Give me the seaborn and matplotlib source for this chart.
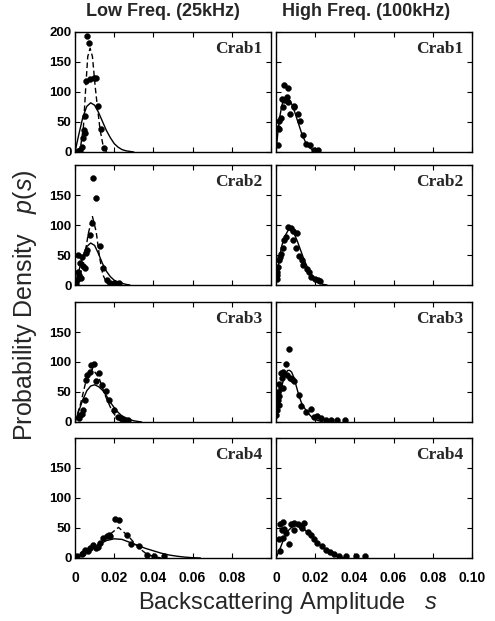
import matplotlib
matplotlib.use("Agg")
import matplotlib.pyplot as plt
import seaborn as sns
import pandas as pd

# ---------------- data ----------------
col_titles = ["Low Freq. (25kHz)", "High Freq. (100kHz)"]
crab_names = ["Crab1", "Crab2", "Crab3", "Crab4"]
x_ticks = [0, 0.02, 0.04, 0.06, 0.08, 0.10]
x_tick_labels_low = ["0", "0.02", "0.04", "0.06", "0.08", ""]
x_tick_labels_high = ["0", "0.02", "0.04", "0.06", "0.08", "0.10"]
y_ticks = [0, 50, 100, 150, 200]

# Low frequency, Crab1
low1_pts_x = [0.0014, 0.0026, 0.0034, 0.0041, 0.0048, 0.0049, 0.0051, 0.0055, 0.0060, 0.0072, 0.0077, 0.0098, 0.0105, 0.0115, 0.0133, 0.0146]
low1_pts_y = [1, 3, 9, 23, 37, 31, 60, 118, 193, 182, 122, 123, 124, 77, 38, 7]
low1_fit_x = [0, 0.002, 0.004, 0.006, 0.008, 0.010, 0.012, 0.014, 0.016, 0.018, 0.020, 0.022, 0.024, 0.026, 0.028, 0.030]
low1_fit_y = [0, 30, 58, 76, 82, 78, 66, 51, 36, 24, 14, 8, 4, 2, 1, 0]
low1_alt_x = [0.0010, 0.0026, 0.0043, 0.0055, 0.0065, 0.0077, 0.0089, 0.0103, 0.0116, 0.0128, 0.0146, 0.0163]
low1_alt_y = [0, 3, 42, 109, 159, 173, 159, 109, 70, 37, 6, 0]

# Low frequency, Crab2
low2_pts_x = [0.0003, 0.0009, 0.0017, 0.0022, 0.0029, 0.0017, 0.0034, 0.0026, 0.0043, 0.0051, 0.0056, 0.0063, 0.0077, 0.0086, 0.0094, 0.0106, 0.0125, 0.0142, 0.0163, 0.0180, 0.0197, 0.0222]
low2_pts_y = [2, 8, 22, 17, 11, 50, 47, 36, 31, 28, 53, 59, 83, 103, 178, 145, 65, 29, 8, 4, 3, 3]
low2_fit_x = [0, 0.002, 0.004, 0.006, 0.008, 0.010, 0.012, 0.014, 0.016, 0.018, 0.020, 0.022, 0.024, 0.026, 0.028]
low2_fit_y = [0, 24, 48, 64, 70, 66, 52, 36, 23, 14, 8, 5, 3, 1, 0]
low2_alt_x = [0.0009, 0.0026, 0.0043, 0.0068, 0.0089, 0.0108, 0.0125, 0.0142, 0.0163, 0.0180]
low2_alt_y = [2, 17, 36, 86, 114, 89, 47, 17, 3, 0]

# Low frequency, Crab3
low3_pts_x = [0.0018, 0.0028, 0.0034, 0.0041, 0.0051, 0.0055, 0.0063, 0.0075, 0.0081, 0.0097, 0.0109, 0.0123, 0.0140, 0.0157, 0.0174, 0.0200, 0.0217, 0.0234, 0.0251, 0.0268]
low3_pts_y = [7, 12, 14, 20, 37, 70, 78, 84, 95, 96, 68, 81, 62, 51, 37, 20, 9, 6, 4, 4]
low3_fit_x = [0, 0.002, 0.004, 0.006, 0.008, 0.010, 0.012, 0.014, 0.016, 0.018, 0.020, 0.022, 0.024, 0.026, 0.028, 0.030, 0.032, 0.034]
low3_fit_y = [0, 19, 37, 52, 60, 62, 59, 53, 44, 33, 24, 16, 10, 7, 4, 2, 1, 0]
low3_alt_x = [0, 0.0029, 0.0055, 0.0089, 0.0123, 0.0157, 0.0191, 0.0217, 0.0234, 0.0250]
low3_alt_y = [0, 31, 67, 89, 73, 42, 17, 6, 1, 0]

# Low frequency, Crab4
low4_pts_x = [0.0010, 0.0034, 0.0043, 0.0051, 0.0068, 0.0077, 0.0094, 0.0106, 0.0116, 0.0128, 0.0145, 0.0162, 0.0171, 0.0180, 0.0205, 0.0225, 0.0265, 0.0287, 0.0325, 0.0367, 0.0402, 0.0453]
low4_pts_y = [3, 7, 8, 13, 11, 16, 22, 16, 19, 25, 33, 36, 39, 36, 65, 63, 39, 24, 20, 5, 3, 3]
low4_fit_x = [0, 0.004, 0.008, 0.012, 0.016, 0.020, 0.024, 0.028, 0.032, 0.036, 0.040, 0.044, 0.048, 0.052, 0.056, 0.060, 0.064]
low4_fit_y = [0, 7, 14, 22, 29, 32, 31, 26, 21, 16, 12, 8, 5, 3, 1.5, 0.5, 0]
low4_alt_x = [0, 0.0085, 0.0154, 0.0222, 0.0273, 0.0325, 0.0368, 0.0410, 0.0440]
low4_alt_y = [0, 14, 33, 51, 36, 17, 6, 2, 0]

# High frequency, Crab1
high1_pts_x = [0.0008, 0.0008, 0.0017, 0.0017, 0.0025, 0.0029, 0.0034, 0.0042, 0.0042, 0.0056, 0.0060, 0.0062, 0.0073, 0.0090, 0.0093, 0.0110, 0.0123, 0.0136, 0.0152, 0.0174, 0.0195, 0.0215]
high1_pts_y = [12, 40, 39, 52, 57, 89, 75, 87, 112, 92, 83, 106, 63, 77, 75, 63, 51, 28, 13, 12, 4, 4]
high1_fit_x = [0, 0.001, 0.002, 0.003, 0.004, 0.005, 0.006, 0.007, 0.008, 0.009, 0.010, 0.011, 0.012, 0.013, 0.014, 0.015, 0.016, 0.018, 0.020, 0.022]
high1_fit_y = [0, 34, 60, 78, 88, 92, 91, 86, 80, 72, 62, 52, 42, 32, 24, 17, 11, 5, 2, 0]

# High frequency, Crab2
high2_pts_x = [0.0003, 0.0003, 0.0007, 0.0012, 0.0017, 0.0020, 0.0024, 0.0034, 0.0041, 0.0051, 0.0062, 0.0076, 0.0085, 0.0088, 0.0102, 0.0105, 0.0118, 0.0131, 0.0139, 0.0156, 0.0169, 0.0181, 0.0198, 0.0215, 0.0227]
high2_pts_y = [10, 16, 21, 30, 41, 47, 52, 62, 75, 80, 97, 95, 90, 75, 62, 87, 49, 41, 34, 27, 22, 14, 10, 8, 6]
high2_fit_x = [0, 0.001, 0.002, 0.003, 0.004, 0.005, 0.006, 0.007, 0.008, 0.009, 0.010, 0.011, 0.012, 0.013, 0.014, 0.015, 0.016, 0.018, 0.020, 0.022, 0.024, 0.026]
high2_fit_y = [0, 28, 50, 66, 76, 84, 90, 94, 92, 87, 80, 72, 63, 54, 45, 37, 30, 18, 9, 4, 1, 0]

# High frequency, Crab3
high3_pts_x = [0.0000, 0.0003, 0.0013, 0.0008, 0.0017, 0.0008, 0.0017, 0.0025, 0.0037, 0.0030, 0.0025, 0.0037, 0.0054, 0.0051, 0.0064, 0.0071, 0.0081, 0.0093, 0.0115, 0.0127, 0.0152, 0.0178, 0.0195, 0.0211, 0.0229, 0.0254, 0.0279, 0.0313, 0.0352]
high3_pts_y = [11, 20, 29, 36, 44, 50, 63, 57, 56, 73, 81, 84, 79, 97, 121, 74, 72, 68, 45, 27, 17, 22, 8, 10, 6, 4, 3, 3, 3]
high3_fit_x = [0, 0.001, 0.002, 0.003, 0.004, 0.005, 0.006, 0.007, 0.008, 0.009, 0.010, 0.011, 0.012, 0.013, 0.014, 0.015, 0.016, 0.018, 0.020, 0.022, 0.024]
high3_fit_y = [0, 25, 45, 60, 73, 81, 86, 86, 83, 75, 64, 52, 41, 32, 26, 21, 16, 9, 4, 2, 0]

# High frequency, Crab4
high4_pts_x = [0.0013, 0.0020, 0.0020, 0.0030, 0.0034, 0.0037, 0.0042, 0.0051, 0.0068, 0.0076, 0.0093, 0.0093, 0.0110, 0.0127, 0.0132, 0.0144, 0.0161, 0.0178, 0.0195, 0.0211, 0.0234, 0.0254, 0.0274, 0.0296, 0.0322, 0.0359, 0.0406, 0.0454]
high4_pts_y = [32, 11, 56, 46, 33, 60, 49, 42, 23, 56, 58, 46, 56, 53, 50, 58, 43, 38, 31, 25, 20, 14, 10, 6, 3, 3, 3, 3]
high4_fit_x = [0, 0.002, 0.004, 0.006, 0.008, 0.010, 0.012, 0.014, 0.016, 0.018, 0.020, 0.022, 0.024, 0.026, 0.028, 0.030, 0.032, 0.034, 0.036]
high4_fit_y = [0, 15, 32, 45, 51, 54, 53, 49, 43, 37, 30, 23, 17, 12, 8, 5, 3, 1, 0]

low_panels = [
    (low1_pts_x, low1_pts_y, low1_fit_x, low1_fit_y, low1_alt_x, low1_alt_y),
    (low2_pts_x, low2_pts_y, low2_fit_x, low2_fit_y, low2_alt_x, low2_alt_y),
    (low3_pts_x, low3_pts_y, low3_fit_x, low3_fit_y, low3_alt_x, low3_alt_y),
    (low4_pts_x, low4_pts_y, low4_fit_x, low4_fit_y, low4_alt_x, low4_alt_y),
]
high_panels = [
    (high1_pts_x, high1_pts_y, high1_fit_x, high1_fit_y, None, None),
    (high2_pts_x, high2_pts_y, high2_fit_x, high2_fit_y, None, None),
    (high3_pts_x, high3_pts_y, high3_fit_x, high3_fit_y, None, None),
    (high4_pts_x, high4_pts_y, high4_fit_x, high4_fit_y, None, None),
]

# ---------------- figure ----------------
sns.set_theme(style="ticks")
plt.rcParams["font.family"] = ["Liberation Sans", "DejaVu Sans"]
plt.rcParams["mathtext.fontset"] = "custom"
plt.rcParams["mathtext.rm"] = "Liberation Sans"
plt.rcParams["mathtext.it"] = "Liberation Sans:italic"

W, H = 495, 621
fig = plt.figure(figsize=(W / 100, H / 100), dpi=100)
fig.patch.set_facecolor("white")

rows_px = [(32, 152), (165, 285), (302, 422), (438, 558)]
cols_px = [(75, 271), (276, 472)]


def px_axes(x0, x1, y0, y1):
    return fig.add_axes([x0 / W, 1 - y1 / H, (x1 - x0) / W, (y1 - y0) / H])


for c, panels in enumerate([low_panels, high_panels]):
    for r, (px_, py_, fx, fy, ax_x, ax_y) in enumerate(panels):
        ax = px_axes(cols_px[c][0], cols_px[c][1], rows_px[r][0], rows_px[r][1])
        ax.set_facecolor("white")
        fit_df = pd.DataFrame({"s": fx, "p": fy})
        sns.lineplot(data=fit_df, x="s", y="p", ax=ax, color="black",
                     linewidth=1.0, estimator=None, sort=True)
        if ax_x is not None:
            alt_df = pd.DataFrame({"s": ax_x, "p": ax_y})
            sns.lineplot(data=alt_df, x="s", y="p", ax=ax, color="black",
                         linewidth=1.0, estimator=None, sort=True,
                         linestyle=(0, (4, 2.2)))
        pts_df = pd.DataFrame({"s": px_, "p": py_})
        sns.scatterplot(data=pts_df, x="s", y="p", ax=ax, color="black",
                        s=18, edgecolor="black", linewidth=0.3, zorder=5)

        ax.set_xlim(0, 0.1)
        ax.set_ylim(0, 200)
        ax.set_xlabel("")
        ax.set_ylabel("")
        ax.set_xticks(x_ticks)
        ax.set_yticks(y_ticks)
        ax.tick_params(direction="in", top=True, right=True, length=3.5,
                       width=0.8, colors="black")
        for sp in ax.spines.values():
            sp.set_linewidth(1.0)
            sp.set_color("black")

        if c == 0:
            labels = ["0", "50", "100", "150", "200" if r == 0 else ""]
            ax.set_yticklabels(labels, fontsize=9.5, fontweight="bold")
            ax.tick_params(axis="y", pad=2.5)
        else:
            ax.set_yticklabels([])

        if r == 3:
            ax.set_xticklabels(x_tick_labels_low if c == 0 else x_tick_labels_high,
                               fontsize=10, fontweight="bold")
            ax.tick_params(axis="x", pad=9)
        else:
            ax.set_xticklabels([])

        ax.text(0.955, 0.86, crab_names[r], transform=ax.transAxes,
                ha="right", va="center", fontsize=12.5, fontweight="bold",
                family=["Liberation Serif", "DejaVu Serif"])

# column titles
fig.text(163 / W, 1 - 11 / H, col_titles[0], ha="center", va="center",
         fontsize=13, fontweight="bold")
fig.text(366 / W, 1 - 11 / H, col_titles[1], ha="center", va="center",
         fontsize=13, fontweight="bold")

# axis labels
fig.text(25 / W, 1 - 305 / H, "Probability Density   $\\mathit{p(s)}$",
         rotation=90, ha="center", va="center", fontsize=18)
fig.text(288 / W, 1 - 603 / H, "Backscattering Amplitude   $\\mathit{s}$",
         ha="center", va="center", fontsize=17)

fig.savefig("out.png", dpi=100, facecolor="white")
